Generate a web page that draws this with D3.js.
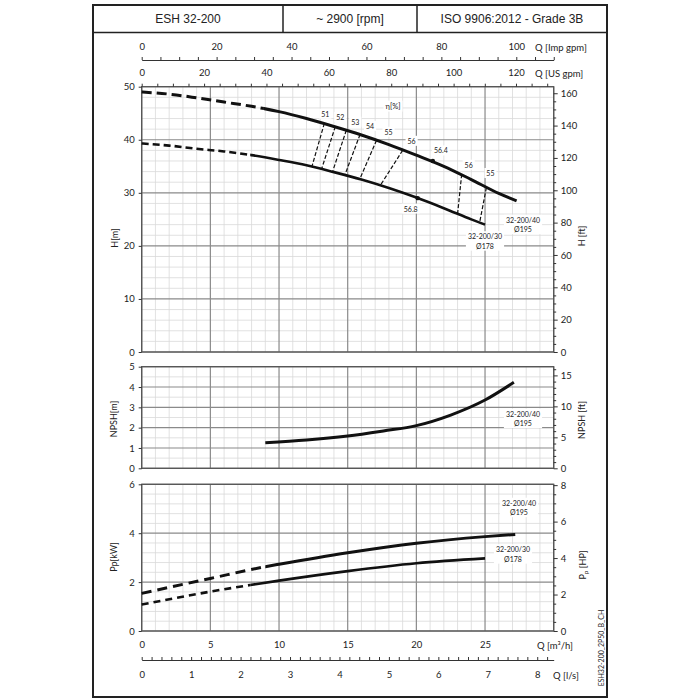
<!DOCTYPE html>
<html>
<head>
<meta charset="utf-8">
<script src="https://cdn.jsdelivr.net/npm/d3@7/dist/d3.min.js"></script>
<style>
  body { margin: 0; background: #fff; }
  svg { display: block; }
  text { font-family: Lato, "Noto Sans", sans-serif; fill: #222; }
  .head text { font-family: "Liberation Sans", Arial, sans-serif; font-size: 12px; }
  .tick text { font-size: 9.5px; }
</style>
</head>
<body>
<svg id="chart" width="700" height="700"></svg>
<script>
// ---- header
const headerCells = ["ESH 32-200", "~ 2900 [rpm]", "ISO 9906:2012 - Grade 3B"];
const drawingCode = "ESH32-200_2P50_B_CH";

// ---- Q–H curves (Q in m3/h, H in m)
const headQ195 = [0, 2, 4, 6, 8, 10, 12, 14, 16, 18, 20, 22, 24, 26, 27.3];
const headH195 = [49.0, 48.6, 47.9, 47.1, 46.3, 45.3, 44.0, 42.5, 40.9, 39.1, 37.1, 35.0, 32.5, 29.9, 28.5];
const headQ178 = [0, 2, 4, 6, 8, 10, 12, 14, 16, 18, 20, 22, 24, 25];
const headH178 = [39.3, 38.9, 38.3, 37.8, 37.1, 36.2, 35.2, 33.9, 32.5, 30.9, 29.1, 27.1, 25.0, 24.0];

// ---- iso-efficiency lines (from Ø195 curve down to Ø178 curve)
const effLabels = ["51", "52", "53", "54", "55", "56", "56", "55"];
const effTopQ = [13.3, 14.1, 14.9, 15.9, 17.1, 19.0, 23.3, 25.1];
const effTopH = [43.1, 42.5, 41.8, 41.0, 39.9, 38.0, 33.5, 31.0];
const effBotQ = [12.4, 13.1, 13.9, 14.8, 15.9, 17.4, 23.0, 24.6];
const effBotH = [35.0, 34.5, 34.0, 33.4, 32.7, 31.5, 26.0, 24.3];
const bepLabels = ["56.4", "56.8"];
const bepQ = [21.2, 20.1];
const bepH = [36.0, 29.0];

// ---- NPSH (m), Ø195
const npshQ = [9.0, 12, 15, 17.6, 20, 22.5, 25, 27.1];
const npshV = [1.26, 1.39, 1.59, 1.84, 2.10, 2.62, 3.36, 4.23];

// ---- shaft power (kW)
const powQ195 = [0, 5, 9, 10, 15, 20, 25, 27.2];
const powP195 = [1.54, 2.15, 2.63, 2.73, 3.20, 3.59, 3.86, 3.95];
const powQ178 = [0, 5, 7.9, 10, 15, 20, 25];
const powP178 = [1.08, 1.61, 1.88, 2.06, 2.45, 2.77, 2.97];

// ---- tick values
const qTicks = [0, 5, 10, 15, 20, 25];
const hTicks = [0, 10, 20, 30, 40, 50];
const npshTicks = [0, 1, 2, 3, 4, 5];
const powTicks = [0, 2, 4, 6];
const hftTicks = [0, 20, 40, 60, 80, 100, 120, 140, 160];
const npshftTicks = [0, 5, 10, 15];
const hpTicks = [0, 2, 4, 6, 8];
const usTicks = [0, 20, 40, 60, 80, 100, 120];
const impTicks = [0, 20, 40, 60, 80, 100];
const lsTicks = [0, 1, 2, 3, 4, 5, 6, 7, 8];

// unit conversions
const US_GPM = 4.4029, IMP_GPM = 3.6662, LS = 1 / 3.6, FT = 0.3048, HP = 0.7457;

const svg = d3.select("#chart");
const defs = svg.append("defs");
svg.append("rect").attr("width", 700).attr("height", 700).attr("fill", "#fff");

const X0 = 141.7, X1 = 553.7, QMAX = 30;
const x = d3.scaleLinear().domain([0, QMAX]).range([X0, X1]);
const yH = d3.scaleLinear().domain([0, 50]).range([352, 86.7]);
const yN = d3.scaleLinear().domain([0, 5]).range([468.3, 366.7]);
const yP = d3.scaleLinear().domain([0, 6]).range([631, 484.3]);

// ---- frame and header
const head = svg.append("g").attr("class", "head");
head.append("rect").attr("x", 93).attr("y", 5).attr("width", 514).attr("height", 692)
  .attr("fill", "none").attr("stroke", "#222").attr("stroke-width", 2);
head.append("line").attr("x1", 93).attr("x2", 607).attr("y1", 32.5).attr("y2", 32.5)
  .attr("stroke", "#222").attr("stroke-width", 1.5);
const cellEdges = [93, 283, 417, 607];
[283, 417].forEach(cx => head.append("line").attr("x1", cx).attr("x2", cx).attr("y1", 5).attr("y2", 32.5)
  .attr("stroke", "#222").attr("stroke-width", 1.5));
head.selectAll("text.cell").data(headerCells).join("text").attr("class", "cell")
  .attr("x", (d, i) => (cellEdges[i] + cellEdges[i + 1]) / 2).attr("y", 19)
  .attr("text-anchor", "middle").attr("dominant-baseline", "central").text(d => d);

// ---- grids
function grid(y, minor, major) {
  const g = svg.append("g");
  const [yb, yt] = y.range();
  const n = Math.round(y.domain()[1] / minor);
  const vals = d3.range(0, n + 1).map(i => i * minor);
  const isMaj = v => Math.abs(v / major - Math.round(v / major)) < 1e-6;
  const qs = d3.range(0, QMAX + 1);
  g.selectAll("line.vmin").data(qs.filter(q => q % 5)).join("line").attr("class", "vmin")
    .attr("x1", x).attr("x2", x).attr("y1", yb).attr("y2", yt).attr("stroke", "#d9d9d9").attr("stroke-width", 0.8);
  g.selectAll("line.hmin").data(vals.filter(v => !isMaj(v))).join("line").attr("class", "hmin")
    .attr("x1", X0).attr("x2", X1).attr("y1", y).attr("y2", y).attr("stroke", "#d9d9d9").attr("stroke-width", 0.8);
  g.selectAll("line.vmaj").data(qs.filter(q => q % 5 === 0)).join("line").attr("class", "vmaj")
    .attr("x1", x).attr("x2", x).attr("y1", yb).attr("y2", yt).attr("stroke", "#8a8a8a").attr("stroke-width", 1.2);
  g.selectAll("line.hmaj").data(vals.filter(isMaj)).join("line").attr("class", "hmaj")
    .attr("x1", X0).attr("x2", X1).attr("y1", y).attr("y2", y).attr("stroke", "#8a8a8a").attr("stroke-width", 1.2);
  g.append("rect").attr("x", X0).attr("y", yt).attr("width", X1 - X0).attr("height", yb - yt)
    .attr("fill", "none").attr("stroke", "#555").attr("stroke-width", 1.3);
}
grid(yH, 2, 10);
grid(yN, 0.5, 1);
grid(yP, 0.4, 2);

// ---- axes
function styleAxis(g) {
  g.selectAll(".tick line").attr("stroke", "#333");
  g.selectAll(".domain").attr("stroke", "#333");
  g.selectAll(".tick text").attr("fill", "#222");
  return g;
}
function leftAxis(y, ticks) {
  svg.append("g").attr("transform", `translate(${X0},0)`)
    .call(d3.axisLeft(y).tickValues(ticks).tickSize(3).tickPadding(4).tickFormat(d3.format("d")))
    .call(g => g.select(".domain").remove()).call(styleAxis);
}
function rightAxis(y, minorStep, labels) {
  const top = y.domain()[1];
  const minors = d3.range(0, Math.floor(top / minorStep + 1e-6) + 1).map(i => i * minorStep);
  const g = svg.append("g").attr("transform", `translate(${X1},0)`);
  g.append("g").call(d3.axisRight(y).tickValues(minors.filter(v => !labels.includes(v))).tickSize(2.5).tickFormat(""))
    .call(a => a.select(".domain").remove()).call(styleAxis);
  g.append("g").call(d3.axisRight(y).tickValues(labels).tickSize(4).tickPadding(3).tickFormat(d3.format("d")))
    .call(a => a.select(".domain").remove()).call(styleAxis);
}
leftAxis(yH, hTicks);
leftAxis(yN, npshTicks);
leftAxis(yP, powTicks);
rightAxis(yH.copy().domain(yH.domain().map(v => v / FT)), 5, hftTicks);
rightAxis(yN.copy().domain(yN.domain().map(v => v / FT)), 1, npshftTicks);
rightAxis(yP.copy().domain(yP.domain().map(v => v / HP)), 0.5, hpTicks);

// top: US gpm on plot border, Imp gpm on its own line
const xUS = x.copy().domain([0, QMAX * US_GPM]);
const xImp = x.copy().domain([0, QMAX * IMP_GPM]);
const xLs = x.copy().domain([0, QMAX * LS]);
svg.append("g").attr("transform", `translate(0,${yH.range()[1]})`)
  .call(d3.axisTop(xUS).tickValues(d3.range(0, 131, 5)).tickSize(3).tickPadding(7.3)
    .tickFormat(d => usTicks.includes(d) ? d : ""))
  .call(g => g.select(".domain").remove()).call(styleAxis);
svg.append("g").attr("transform", "translate(0,60)")
  .call(d3.axisTop(xImp).tickValues(d3.range(0, 111, 5)).tickSize(3).tickSizeOuter(0).tickPadding(6.6)
    .tickFormat(d => impTicks.includes(d) ? d : ""))
  .call(styleAxis);
// bottom: m3/h under power plot, l/s on its own line
svg.append("g").attr("transform", `translate(0,${yP.range()[0]})`)
  .call(d3.axisBottom(x).tickValues(qTicks).tickSize(0).tickPadding(10.6))
  .call(g => g.select(".domain").remove()).call(styleAxis);
svg.append("g").attr("transform", "translate(0,660)")
  .call(d3.axisBottom(xLs).tickValues(d3.range(0, 42).map(i => i * 0.2)).tickSizeInner(-3).tickSizeOuter(0).tickPadding(11)
    .tickFormat(d => lsTicks.some(t => Math.abs(t - d) < 1e-6) ? Math.round(d) : ""))
  .call(styleAxis);

// unit labels
const unitLabels = [
  { t: "Q [Imp gpm]", x: 535, y: 47 }, { t: "Q [US gpm]", x: 535, y: 73 },
  { t: "Q [m³/h]", x: 537, y: 645 }, { t: "Q [l/s]", x: 553, y: 675 }
];
svg.selectAll("text.unit").data(unitLabels).join("text").attr("class", "unit")
  .attr("x", d => d.x).attr("y", d => d.y).attr("dominant-baseline", "central")
  .attr("font-size", 9.5).text(d => d.t);

function vTitle(t, cx, cy) {
  return svg.append("text").attr("transform", `translate(${cx},${cy}) rotate(-90)`)
    .attr("text-anchor", "middle").attr("dominant-baseline", "central").attr("font-size", 9).text(t);
}
vTitle("H[m]", 114, 238);
vTitle("NPSH[m]", 113, 419);
vTitle("Pp[kW]", 113, 557);
vTitle("H [ft]", 581, 236);
vTitle("NPSH [ft]", 581, 420);
const pp = vTitle("", 582, 565);
pp.append("tspan").text("P");
pp.append("tspan").attr("font-size", 6.5).attr("baseline-shift", "sub").text("p");
pp.append("tspan").text(" [HP]");
svg.append("text").attr("transform", "translate(601,648) rotate(-90)")
  .attr("text-anchor", "middle").attr("dominant-baseline", "central").attr("font-size", 7)
  .attr("fill", "#333").text(drawingCode);

// ---- curves
let clipN = 0;
function curve(y, qs, vs, dashEnd, width, dash) {
  const d = d3.line().curve(d3.curveMonotoneX)(qs.map((q, i) => [x(q), y(vs[i])]));
  const top = y.range()[1] - 10, h = y.range()[0] - top + 20;
  const parts = [];
  if (dashEnd != null) {
    const id = "clip" + (clipN++);
    defs.append("clipPath").attr("id", id + "a").append("rect")
      .attr("x", X0 - 10).attr("y", top).attr("width", x(dashEnd) - X0 + 10).attr("height", h);
    defs.append("clipPath").attr("id", id + "b").append("rect")
      .attr("x", x(dashEnd)).attr("y", top).attr("width", X1 - x(dashEnd) + 20).attr("height", h);
    parts.push({ clip: id + "a", dash }, { clip: id + "b", dash: null });
  } else parts.push({ clip: null, dash: null });
  parts.forEach(p => svg.append("path").attr("d", d).attr("fill", "none")
    .attr("stroke", "#111").attr("stroke-width", width)
    .attr("stroke-dasharray", p.dash).attr("clip-path", p.clip ? `url(#${p.clip})` : null));
}
curve(yH, headQ195, headH195, 8.9, 3, "10 5");
curve(yH, headQ178, headH178, 7.9, 2.6, "7 4");
curve(yN, npshQ, npshV, null, 3);
curve(yP, powQ195, powP195, 9.0, 3, "10 6");
curve(yP, powQ178, powP178, 7.9, 2.6, "7 5");

// iso-efficiency dashed lines
svg.selectAll("line.eff").data(effLabels).join("line").attr("class", "eff")
  .attr("x1", (d, i) => x(effTopQ[i])).attr("y1", (d, i) => yH(effTopH[i]))
  .attr("x2", (d, i) => x(effBotQ[i])).attr("y2", (d, i) => yH(effBotH[i]))
  .attr("stroke", "#111").attr("stroke-width", 1.2).attr("stroke-dasharray", "4 2");
svg.selectAll("circle.bep").data(bepLabels).join("circle").attr("class", "bep")
  .attr("cx", (d, i) => x(bepQ[i])).attr("cy", (d, i) => yH(bepH[i])).attr("r", 2.2).attr("fill", "#111");

// ---- labels with white backing
function boxed(cx, cy, lines, size, fill) {
  const g = svg.append("g");
  const t = g.append("text").attr("text-anchor", "middle").attr("font-size", size).attr("fill", fill || "#222");
  lines.forEach((l, i) => t.append("tspan").attr("x", cx)
    .attr("y", cy + (i - (lines.length - 1) / 2) * size * 1.35).attr("dy", "0.35em").text(l));
  const b = t.node().getBBox();
  g.insert("rect", () => t.node()).attr("x", b.x - 2).attr("y", b.y - 1)
    .attr("width", b.width + 4).attr("height", b.height + 2).attr("fill", "#fff");
}
const effDx = [1, 5, 9, 10, 12, 9, 7, 4];
const effDy = [-9, -9, -8, -8, -8, -9, -9, -14];
effLabels.forEach((l, i) => boxed(x(effTopQ[i]) + effDx[i], yH(effTopH[i]) + effDy[i], [l], 7, "#333"));
boxed(x(bepQ[0]) + 8, yH(bepH[0]) - 10, [bepLabels[0]], 7, "#333");
boxed(x(bepQ[1]) - 7, yH(bepH[1]) + 11, [bepLabels[1]], 7, "#333");
boxed(393, 106, ["η[%]"], 7.5, "#333");

boxed(523, 225, ["32-200/40", "Ø195"], 7);
boxed(485, 241.5, ["32-200/30", "Ø178"], 7);
boxed(523, 419, ["32-200/40", "Ø195"], 7);
boxed(519, 508, ["32-200/40", "Ø195"], 7);
boxed(513, 554.5, ["32-200/30", "Ø178"], 7);
</script>
</body>
</html>
